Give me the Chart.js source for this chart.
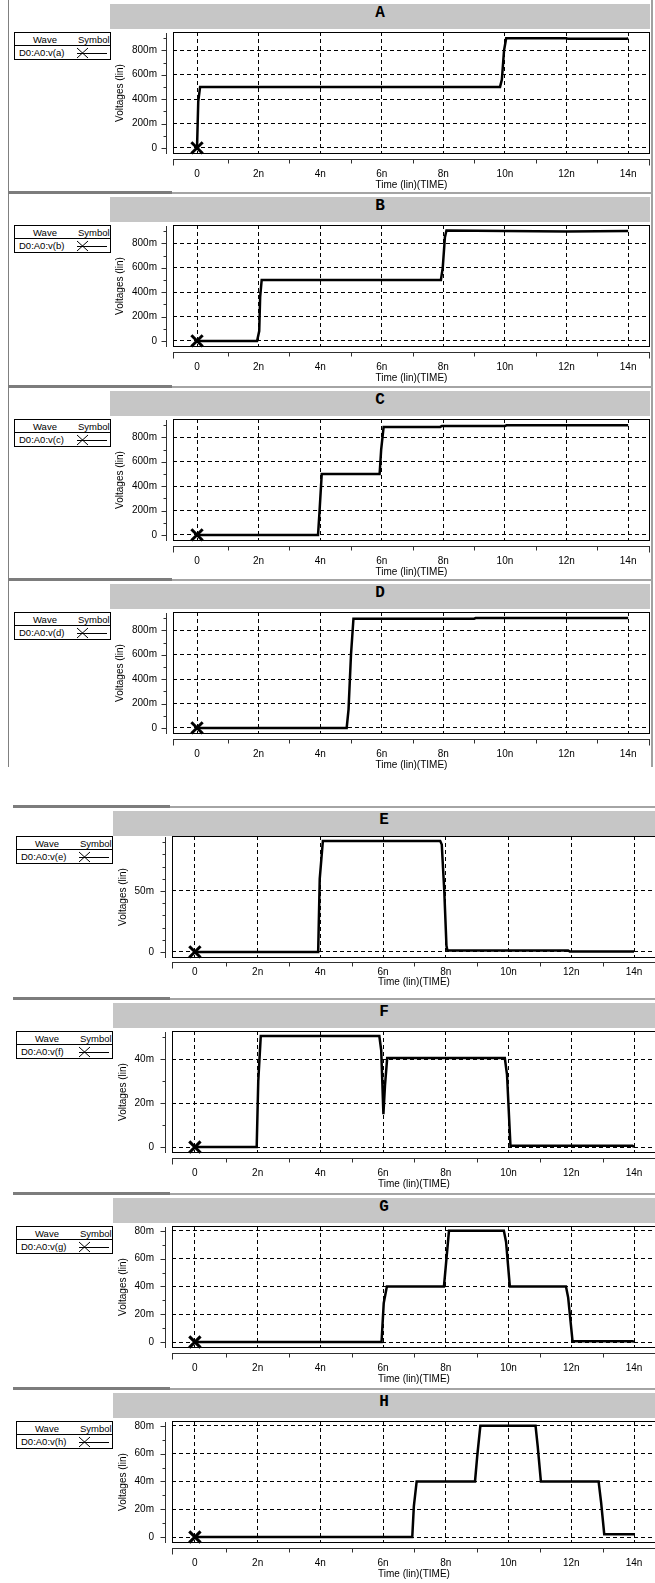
<!DOCTYPE html>
<html>
<head>
<meta charset="utf-8">
<script src="https://cdn.jsdelivr.net/npm/chart.js@4.4.0/dist/chart.umd.min.js"></script>
<style>
body { margin: 0; background: #fff; }
#page { position: relative; width: 655px; height: 1583px; overflow: hidden; font-family: "Liberation Sans", Arial, sans-serif; color: #000; }
.bar { position: absolute; height: 25px; line-height: 25px; background: #c6c6c6; font: bold 16px "Liberation Mono", "Courier New", monospace; text-align: center; }
.lg { position: absolute; width: 95px; height: 26px; border: 1px solid #000; background: #fff; font-size: 9.5px; line-height: 11px; }
.lg span { position: absolute; white-space: nowrap; }
.sep { position: absolute; }
canvas { position: absolute; left: 0; }
</style>
</head>
<body>
<div id="page"></div>
<script>
const panelNames = ['A', 'B', 'C', 'D', 'E', 'F', 'G', 'H'];
const waveLabels = ['D0:A0:v(a)', 'D0:A0:v(b)', 'D0:A0:v(c)', 'D0:A0:v(d)',
                    'D0:A0:v(e)', 'D0:A0:v(f)', 'D0:A0:v(g)', 'D0:A0:v(h)'];

// time in ns, voltage in mV
const timeA = [0, 0.04, 0.1, 9.84, 9.9, 9.97, 10.04, 12.0, 12.05, 13.96, 14.0];
const voltA = [0, 380, 500, 500, 560, 800, 898, 898, 894, 894, 900];

const timeB = [0, 1.95, 2.02, 2.05, 2.1, 7.92, 7.98, 8.05, 8.1, 10.0, 12.0, 14.0];
const voltB = [0, 0, 80, 360, 500, 500, 600, 850, 905, 900, 896, 900];

const timeC = [0, 3.93, 3.98, 4.05, 5.93, 5.98, 6.06, 7.9, 7.95, 10.0, 10.05, 14.0];
const voltC = [0, 0, 200, 500, 500, 700, 885, 885, 893, 893, 898, 898];

const timeD = [0, 4.86, 4.92, 5.0, 5.08, 9.0, 9.05, 14.0];
const voltD = [0, 0, 150, 600, 895, 895, 900, 900];

const timeE = [0, 3.93, 3.98, 4.08, 7.82, 7.87, 7.95, 8.02, 8.05, 11.9, 11.95, 14.0];
const voltE = [0, 0, 60, 91, 91, 88, 50, 5, 1.2, 1.2, 0.3, 0.3];

const timeF = [0, 1.97, 2.02, 2.1, 5.88, 5.94, 6.01, 6.06, 6.13, 9.88, 9.95, 10.06, 13.95, 14.0];
const voltF = [0, 0, 30, 50.5, 50.5, 44, 15, 28, 40.5, 40.5, 33, 0.6, 0.6, 0];

const timeG = [0, 5.95, 6.02, 6.12, 7.94, 8.0, 8.1, 9.85, 9.92, 10.04, 11.83, 11.9, 12.04, 13.96, 14.0];
const voltG = [0, 0, 28, 40, 40, 55, 80, 80, 72, 40, 40, 32, 0.5, 0.5, 0];

const timeH = [0, 6.93, 6.98, 7.07, 8.93, 9.0, 9.1, 10.86, 10.93, 11.03, 12.87, 12.95, 13.05, 14.0];
const voltH = [0, 0, 22, 40, 40, 58, 80, 80, 65, 40, 40, 25, 2, 2];

const times = [timeA, timeB, timeC, timeD, timeE, timeF, timeG, timeH];
const volts = [voltA, voltB, voltC, voltD, voltE, voltF, voltG, voltH];

const xTickValues = [0, 2, 4, 6, 8, 10, 12, 14];
const xTickLabels = ['0', '2n', '4n', '6n', '8n', '10n', '12n', '14n'];
const xMinorTicks = [1, 3, 5, 7, 9, 11, 13];

const yTicksAD = [0, 200, 400, 600, 800];
const yLabelsAD = ['0', '200m', '400m', '600m', '800m'];
const yMinorAD = [100, 300, 500, 700, 900];
const yTicksE = [0, 50];
const yLabelsE = ['0', '50m'];
const yMinorE = [10, 20, 30, 40, 60, 70, 80, 90];
const yTicksF = [0, 20, 40];
const yLabelsF = ['0', '20m', '40m'];
const yMinorF = [10, 30, 50];
const yTicksGH = [0, 20, 40, 60, 80];
const yLabelsGH = ['0', '20m', '40m', '60m', '80m'];
const yMinorGH = [10, 30, 50, 70];

const yRanges = [[-50, 950], [-50, 950], [-50, 950], [-50, 950], [-5, 95], [-2.7, 52.8], [-4.3, 83.5], [-4.3, 83.5]];
const xRangeTop = [-0.78, 14.71];
const xRangeBottom = [-0.73, 14.70];

// panel separator y positions
const panelTops = [-1, 192, 386, 579, 806, 998, 1193, 1388];

const page = document.getElementById('page');

function addDiv(cls, css, html) {
    const d = document.createElement('div');
    if (cls) d.className = cls;
    d.style.cssText = css;
    if (html) d.innerHTML = html;
    page.appendChild(d);
    return d;
}

// separate axis lines with tick marks, like the simulator viewer draws them
const spiceAxes = {
    id: 'spiceAxes',
    afterDraw(chart, args, opts) {
        const { ctx, chartArea: a, scales: { x, y } } = chart;
        const L = Math.round(a.left), R = Math.round(a.right), T = Math.round(a.top), B = Math.round(a.bottom);
        ctx.save();
        ctx.lineWidth = 1;
        ctx.strokeStyle = '#000';
        ctx.strokeRect(L + 0.5, T + 0.5, R - L - 1, B - T - 1);

        ctx.strokeStyle = '#303030';
        ctx.beginPath();
        const ax = L - 6.5;
        ctx.moveTo(ax, T + 1);
        ctx.lineTo(ax, B);
        opts.yMajor.forEach(v => {
            const py = Math.round(y.getPixelForValue(v)) + 0.5;
            ctx.moveTo(ax, py); ctx.lineTo(ax - 5, py);
        });
        opts.yMinor.forEach(v => {
            const py = Math.round(y.getPixelForValue(v)) + 0.5;
            ctx.moveTo(ax, py); ctx.lineTo(ax - 3, py);
        });

        const ay = B + opts.gap + 0.5;
        ctx.moveTo(L, ay); ctx.lineTo(R, ay);
        ctx.moveTo(L + 0.5, ay); ctx.lineTo(L + 0.5, ay + 6);
        ctx.moveTo(R - 0.5, ay); ctx.lineTo(R - 0.5, ay + 6);
        xMinorTicks.forEach(v => {
            const px = Math.round(x.getPixelForValue(v)) + 0.5;
            ctx.moveTo(px, ay); ctx.lineTo(px, ay + 4);
        });
        ctx.stroke();
        ctx.restore();
    }
};

function clearPadding(ax) {
    ax.paddingTop = 0; ax.paddingBottom = 0; ax.paddingLeft = 0; ax.paddingRight = 0;
}

function makePanel(i) {
    const upper = i < 4;
    const tight = i === 4;   // panel E sits a little higher, with its time axis tucked in
    const sep = panelTops[i];

    // separator line above the panel
    if (i > 0) {
        const x0 = upper ? 8 : 13, xm = upper ? 172 : 170, x1 = upper ? 653 : 655;
        addDiv('sep', `left:${x0}px;top:${sep - 1}px;width:${xm - x0}px;height:3px;background:#7c7c7c`);
        addDiv('sep', `left:${xm}px;top:${sep}px;width:${x1 - xm}px;height:2px;background:#a4a4a4`);
    }

    // grey title bar
    const barL = upper ? 110 : 113, barR = upper ? 650 : 655;
    addDiv('bar', `left:${barL}px;top:${sep + 5}px;width:${barR - barL}px`, panelNames[i]);

    // chart canvas
    const canvas = document.createElement('canvas');
    canvas.width = upper ? 655 : 662;
    canvas.height = 162;
    canvas.style.top = (sep + (tight ? 27 : 30)) + 'px';
    page.appendChild(canvas);

    // wave / symbol legend box
    const lgL = upper ? 14 : 16;
    addDiv('lg', `left:${lgL}px;top:${sep + (tight ? 30 : 33)}px`,
        '<span style="left:18px;top:1px">Wave</span>' +
        '<span style="left:63px;top:1px">Symbol</span>' +
        '<div style="position:absolute;left:0;right:0;top:12px;border-top:1px solid #000"></div>' +
        `<span style="left:4px;top:14px">${waveLabels[i]}</span>` +
        '<svg style="position:absolute;left:61px;top:14px" width="32" height="12">' +
        '<path d="M1 1 L12 11 M1 11 L12 1 M1 6.5 L31 6.5" stroke="#000" stroke-width="1" fill="none"/></svg>');

    let yTicks, yLabels, yMinor;
    if (upper) { yTicks = yTicksAD; yLabels = yLabelsAD; yMinor = yMinorAD; }
    else if (i === 4) { yTicks = yTicksE; yLabels = yLabelsE; yMinor = yMinorE; }
    else if (i === 5) { yTicks = yTicksF; yLabels = yLabelsF; yMinor = yMinorF; }
    else { yTicks = yTicksGH; yLabels = yLabelsGH; yMinor = yMinorGH; }

    const xr = upper ? xRangeTop : xRangeBottom;
    const padL = upper ? 110 : 113;
    const boxL = upper ? 173 : 172;

    const pts = times[i].map((t, k) => ({ x: t, y: volts[i][k] }));

    new Chart(canvas, {
        type: 'line',
        data: {
            datasets: [{
                data: pts,
                borderColor: '#000',
                borderWidth: 2.5,
                tension: 0,
                fill: false,
                clip: false,
                pointStyle: 'crossRot',
                pointRadius: c => c.dataIndex === 0 ? 8 : 0,
                pointBorderWidth: 3,
                pointBorderColor: '#000',
                pointBackgroundColor: '#000'
            }]
        },
        options: {
            responsive: false,
            animation: false,
            devicePixelRatio: 1,
            events: [],
            layout: { autoPadding: false, padding: { left: padL, right: upper ? 5 : 6, top: 3, bottom: 0 } },
            plugins: {
                legend: { display: false },
                tooltip: { enabled: false },
                spiceAxes: { yMajor: yTicks, yMinor: yMinor, gap: tight ? 4 : 5 }
            },
            scales: {
                x: {
                    type: 'linear',
                    min: xr[0],
                    max: xr[1],
                    afterBuildTicks: ax => { ax.ticks = xTickValues.map(v => ({ value: v })); },
                    afterFit: ax => { ax.height = 37; clearPadding(ax); },
                    ticks: { autoSkip: false, maxRotation: 0, padding: tight ? 8 : 14, color: '#000', font: { size: 10 },
                             callback: (v, k) => xTickLabels[k] },
                    grid: { color: '#000', lineWidth: 1, drawTicks: false },
                    border: { display: false, dash: [4, 3] },
                    title: { display: true, text: 'Time (lin)(TIME)', color: '#000', font: { size: 10 },
                             padding: { top: 0, bottom: tight ? 7 : 0 } }
                },
                y: {
                    type: 'linear',
                    min: yRanges[i][0],
                    max: yRanges[i][1],
                    afterBuildTicks: ax => { ax.ticks = yTicks.map(v => ({ value: v })); },
                    afterFit: ax => { ax.width = boxL - padL; clearPadding(ax); },
                    ticks: { autoSkip: false, padding: upper ? 16 : 18, color: '#000', font: { size: 10 },
                             callback: (v, k) => yLabels[k] },
                    grid: { color: '#000', lineWidth: 1, drawTicks: false },
                    border: { display: false, dash: [4, 3] },
                    title: { display: true, text: 'Voltages (lin)', color: '#000', font: { size: 10 },
                             padding: { top: 4, bottom: 0 } }
                }
            }
        },
        plugins: [spiceAxes]
    });
}

// frame round the upper group
addDiv('sep', 'left:8px;top:0;width:1px;height:767px;background:#808080');
addDiv('sep', 'left:651px;top:0;width:2px;height:767px;background:#a0a0a0');

panelNames.forEach((n, i) => makePanel(i));
</script>
</body>
</html>
